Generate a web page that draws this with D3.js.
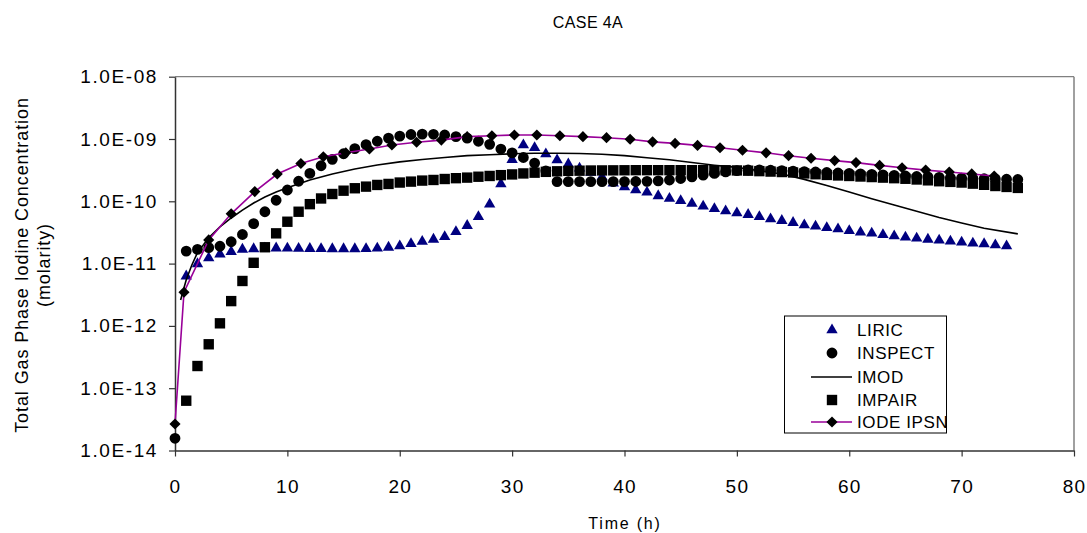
<!DOCTYPE html>
<html>
<head>
<meta charset="utf-8">
<script src="https://cdn.jsdelivr.net/npm/d3@7"></script>
<style>
  html, body { margin: 0; padding: 0; background: #fff; }
  svg { display: block; }
  text { font-family: "Liberation Sans", Arial, sans-serif; fill: #000; }
</style>
</head>
<body>
<svg id="chart" width="1087" height="533"></svg>
<script>
// ---------------- DATA ----------------
const titleText = "CASE 4A";
const xLabel = "Time (h)";
const yLabel1 = "Total Gas Phase Iodine Concentration";
const yLabel2 = "(molarity)";

const xTickValues = [0, 10, 20, 30, 40, 50, 60, 70, 80];
const yTickValues = [1e-14, 1e-13, 1e-12, 1e-11, 1e-10, 1e-9, 1e-8];
const yTickLabels = ["1.0E-14", "1.0E-13", "1.0E-12", "1.0E-11", "1.0E-10", "1.0E-09", "1.0E-08"];

const seriesNames = ["LIRIC", "INSPECT", "IMOD", "IMPAIR", "IODE IPSN"];

// LIRIC (t = 1..74 h)
const liricT = d3.range(1, 75);
const liricV = [
  6.3e-12, 9.9e-12, 1.23e-11, 1.42e-11, 1.55e-11, 1.69e-11, 1.72e-11, 1.76e-11, 1.77e-11, 1.76e-11,
  1.75e-11, 1.74e-11, 1.73e-11, 1.72e-11, 1.72e-11, 1.72e-11, 1.73e-11, 1.76e-11, 1.82e-11, 1.92e-11,
  2.08e-11, 2.26e-11, 2.45e-11, 2.7e-11, 3.25e-11, 4.06e-11, 5.66e-11, 8.95e-11, 1.9e-10, 4.65e-10,
  8.0e-10, 7.25e-10, 5.74e-10, 4.6e-10, 3.95e-10, 3.39e-10, 2.9e-10, 2.45e-10, 1.95e-10, 1.7e-10,
  1.52e-10, 1.40e-10, 1.22e-10, 1.11e-10, 1.02e-10, 9.2e-11, 8.3e-11, 7.6e-11, 7.0e-11, 6.5e-11,
  6.1e-11, 5.66e-11, 5.2e-11, 4.9e-11, 4.54e-11, 4.17e-11, 3.97e-11, 3.77e-11, 3.59e-11, 3.37e-11,
  3.18e-11, 3.06e-11, 2.91e-11, 2.77e-11, 2.64e-11, 2.55e-11, 2.45e-11, 2.37e-11, 2.28e-11, 2.2e-11,
  2.12e-11, 2.07e-11, 1.99e-11, 1.92e-11
];

// INSPECT (t = 0..75 h)
const inspectT = d3.range(0, 76);
const inspectV = [
  1.57e-14, 1.59e-11, 1.69e-11, 1.8e-11, 1.9e-11, 2.24e-11, 2.93e-11, 4.38e-11, 6.8e-11, 1.04e-10,
  1.52e-10, 2.1e-10, 2.8e-10, 3.72e-10, 4.72e-10, 5.8e-10, 7.0e-10, 8.1e-10, 9.2e-10, 1.03e-9,
  1.11e-9, 1.18e-9, 1.2e-9, 1.19e-9, 1.16e-9, 1.09e-9, 1.03e-9, 9.2e-10, 8.2e-10, 6.9e-10,
  6.0e-10, 5.05e-10, 4.1e-10, 3.08e-10, 2.07e-10, 2.07e-10, 2.07e-10, 2.07e-10, 2.07e-10, 2.07e-10,
  2.07e-10, 2.08e-10, 2.09e-10, 2.13e-10, 2.2e-10, 2.32e-10, 2.46e-10, 2.63e-10, 2.8e-10, 2.97e-10,
  3.1e-10, 3.18e-10, 3.2e-10, 3.15e-10, 3.1e-10, 3.05e-10, 3.0e-10, 2.95e-10, 2.9e-10, 2.85e-10,
  2.8e-10, 2.75e-10, 2.7e-10, 2.65e-10, 2.6e-10, 2.55e-10, 2.5e-10, 2.46e-10, 2.42e-10, 2.39e-10,
  2.36e-10, 2.33e-10, 2.3e-10, 2.28e-10, 2.26e-10, 2.24e-10
];

// IMOD (continuous line)
const imodT = [0.5, 1, 1.5, 2, 3, 4, 5, 6, 7, 8, 9, 10, 12, 14, 16, 18, 20, 22, 24, 26, 28, 30, 32, 34,
  36, 38, 40, 42, 44, 46, 48, 50, 52, 54, 56, 58, 60, 62, 64, 66, 68, 70, 72, 75];
const imodV = [2.6e-12, 5.5e-12, 9.5e-12, 1.5e-11, 2.6e-11, 3.9e-11, 5.4e-11, 7.2e-11, 9.4e-11, 1.17e-10,
  1.41e-10, 1.65e-10, 2.2e-10, 2.75e-10, 3.3e-10, 3.83e-10, 4.3e-10, 4.7e-10, 5.05e-10, 5.4e-10,
  5.6e-10, 5.8e-10, 5.9e-10, 5.9e-10, 5.85e-10, 5.7e-10, 5.4e-10, 5.0e-10, 4.65e-10, 4.2e-10,
  3.8e-10, 3.5e-10, 3.1e-10, 2.75e-10, 2.25e-10, 1.8e-10, 1.41e-10, 1.1e-10, 8.7e-11, 6.9e-11,
  5.5e-11, 4.5e-11, 3.7e-11, 3.0e-11];

// IMPAIR (t = 1..75 h)
const impairT = d3.range(1, 76);
const impairV = [
  6.3e-14, 2.27e-13, 5.07e-13, 1.1e-12, 2.5e-12, 5.26e-12, 1.03e-11, 1.83e-11, 3.06e-11, 4.7e-11,
  6.8e-11, 9.0e-11, 1.11e-10, 1.31e-10, 1.48e-10, 1.62e-10, 1.72e-10, 1.83e-10, 1.9e-10, 2.0e-10,
  2.07e-10, 2.15e-10, 2.2e-10, 2.28e-10, 2.35e-10, 2.4e-10, 2.48e-10, 2.55e-10, 2.63e-10, 2.7e-10,
  2.8e-10, 2.88e-10, 2.97e-10, 3.03e-10, 3.08e-10, 3.1e-10, 3.12e-10, 3.13e-10, 3.14e-10, 3.15e-10,
  3.16e-10, 3.16e-10, 3.16e-10, 3.16e-10, 3.16e-10, 3.16e-10, 3.16e-10, 3.16e-10, 3.15e-10, 3.13e-10,
  3.1e-10, 3.05e-10, 3.0e-10, 2.95e-10, 2.9e-10, 2.8e-10, 2.72e-10, 2.65e-10, 2.6e-10, 2.55e-10,
  2.5e-10, 2.45e-10, 2.4e-10, 2.35e-10, 2.3e-10, 2.24e-10, 2.17e-10, 2.1e-10, 2.05e-10, 2.0e-10,
  1.92e-10, 1.84e-10, 1.76e-10, 1.7e-10, 1.64e-10
];

// IODE IPSN (line + diamonds)
const iodeT = [0, 0.8, 3, 5, 7.1, 9.1, 11.2, 13.2, 15.2, 17.3, 19.3, 21.5, 23.7, 26, 28.2, 30.2, 32.2,
  34.25, 36.3, 38.4, 40.5, 42.5, 44.5, 46.5, 48.5, 50.5, 52.6, 54.6, 56.6, 58.7, 60.6, 62.7, 64.7,
  66.8, 68.9, 70.9, 72.9];
const iodeV = [2.66e-14, 3.47e-12, 2.4e-11, 6.3e-11, 1.43e-10, 2.74e-10, 4.05e-10, 5.2e-10, 6.0e-10,
  6.9e-10, 8.0e-10, 8.85e-10, 9.6e-10, 1.09e-9, 1.13e-9, 1.16e-9, 1.16e-9, 1.13e-9, 1.09e-9, 1.05e-9,
  9.9e-10, 9.0e-10, 8.5e-10, 7.9e-10, 7.25e-10, 6.6e-10, 6.0e-10, 5.4e-10, 4.9e-10, 4.5e-10, 4.18e-10,
  3.77e-10, 3.45e-10, 3.17e-10, 2.95e-10, 2.75e-10, 2.55e-10];

// ---------------- CHART ----------------
const plot = { left: 175, right: 1074, top: 76.7, bottom: 450.5 };
const svg = d3.select("#chart");

const x = d3.scaleLinear().domain([0, 80]).range([plot.left, plot.right]);
const y = d3.scaleLog().domain([1e-14, 1e-8]).range([plot.bottom, plot.top]);

const zip = (ts, vs) => ts.map((t, i) => ({ t, v: vs[i] }));

// frame (top & right)
svg.append("line").attr("x1", plot.left).attr("x2", plot.right).attr("y1", plot.top).attr("y2", plot.top)
  .attr("stroke", "#808080").attr("stroke-width", 1.2);
svg.append("line").attr("x1", plot.right).attr("x2", plot.right).attr("y1", plot.top).attr("y2", plot.bottom)
  .attr("stroke", "#808080").attr("stroke-width", 1.5);

// axes
const yAxis = d3.axisLeft(y).tickValues(yTickValues)
  .tickFormat((d, i) => yTickLabels[i]).tickSize(6).tickSizeOuter(0).tickPadding(11);
const gy = svg.append("g").attr("transform", `translate(${plot.left},0)`).call(yAxis);
gy.select(".domain").attr("stroke", "#333").attr("stroke-width", 1.5);
gy.selectAll(".tick line").attr("stroke", "#333").attr("stroke-width", 1.2);
gy.selectAll("text").style("font-size", "19px").style("letter-spacing", "1.6px")
  .style("font-family", '"Liberation Sans", Arial, sans-serif').attr("fill", "#000");

const xAxis = d3.axisBottom(x).tickValues(xTickValues).tickSize(6).tickSizeOuter(0).tickPadding(23);
const gx = svg.append("g").attr("transform", `translate(0,${plot.bottom})`).call(xAxis);
gx.select(".domain").attr("stroke", "#333").attr("stroke-width", 1.5);
gx.selectAll(".tick line").attr("stroke", "#333").attr("stroke-width", 1.2);
gx.selectAll("text").style("font-size", "19px").style("letter-spacing", "1.2px")
  .style("font-family", '"Liberation Sans", Arial, sans-serif').attr("fill", "#000");

// titles
svg.append("text").attr("x", 588).attr("y", 28).attr("text-anchor", "middle")
  .style("font-size", "16px").style("letter-spacing", "0.4px").text(titleText);
svg.append("text").attr("x", 625).attr("y", 529).attr("text-anchor", "middle")
  .style("font-size", "16px").style("letter-spacing", "1.8px").text(xLabel);
svg.append("text").attr("transform", "translate(28,265) rotate(-90)").attr("text-anchor", "middle")
  .style("font-size", "18px").style("letter-spacing", "0.9px").text(yLabel1);
svg.append("text").attr("transform", "translate(50,265) rotate(-90)").attr("text-anchor", "middle")
  .style("font-size", "18px").style("letter-spacing", "0.9px").text(yLabel2);

// symbols
const diamondType = {
  draw(ctx, size) {
    const r = Math.sqrt(size / 2);
    ctx.moveTo(0, -r); ctx.lineTo(r, 0); ctx.lineTo(0, r); ctx.lineTo(-r, 0); ctx.closePath();
  }
};
const triSym = d3.symbol().type(d3.symbolTriangle).size(56);
const circSym = d3.symbol().type(d3.symbolCircle).size(92);
const sqSym = d3.symbol().type(d3.symbolSquare).size(108);
const diaSym = d3.symbol().type(diamondType).size(62);

const NAVY = "#000080", PURPLE = "#990099";
const lineGen = d3.line().x(d => x(d.t)).y(d => y(d.v));

const gPlot = svg.append("g");

// LIRIC
gPlot.append("g").selectAll("path").data(zip(liricT, liricV)).join("path")
  .attr("d", triSym).attr("transform", d => `translate(${x(d.t)},${y(d.v)})`).attr("fill", NAVY);
// INSPECT
gPlot.append("g").selectAll("path").data(zip(inspectT, inspectV)).join("path")
  .attr("d", circSym).attr("transform", d => `translate(${x(d.t)},${y(d.v)})`).attr("fill", "#000");
// IMOD
gPlot.append("path").datum(zip(imodT, imodV)).attr("d", lineGen)
  .attr("fill", "none").attr("stroke", "#000").attr("stroke-width", 1.6);
// IMPAIR
gPlot.append("g").selectAll("path").data(zip(impairT, impairV)).join("path")
  .attr("d", sqSym).attr("transform", d => `translate(${x(d.t)},${y(d.v)})`).attr("fill", "#000");
// IODE IPSN
gPlot.append("path").datum(zip(iodeT, iodeV)).attr("d", lineGen)
  .attr("fill", "none").attr("stroke", PURPLE).attr("stroke-width", 1.6);
gPlot.append("g").selectAll("path").data(zip(iodeT, iodeV)).join("path")
  .attr("d", diaSym).attr("transform", d => `translate(${x(d.t)},${y(d.v)})`).attr("fill", "#000");

// legend
const lg = svg.append("g");
lg.append("rect").attr("x", 784.5).attr("y", 316).attr("width", 162).attr("height", 117)
  .attr("fill", "#fff").attr("stroke", "#000").attr("stroke-width", 1);
const legendY = [330, 353, 377, 400, 422];
const symX = 832;
seriesNames.forEach((name, i) => {
  const yy = legendY[i];
  if (i === 0) lg.append("path").attr("d", triSym).attr("transform", `translate(${symX},${yy})`).attr("fill", NAVY);
  if (i === 1) lg.append("path").attr("d", circSym).attr("transform", `translate(${symX},${yy})`).attr("fill", "#000");
  if (i === 2) lg.append("line").attr("x1", 811).attr("x2", 852).attr("y1", yy).attr("y2", yy)
    .attr("stroke", "#000").attr("stroke-width", 1.6);
  if (i === 3) lg.append("path").attr("d", sqSym).attr("transform", `translate(${symX},${yy})`).attr("fill", "#000");
  if (i === 4) {
    lg.append("line").attr("x1", 811).attr("x2", 852).attr("y1", yy).attr("y2", yy)
      .attr("stroke", PURPLE).attr("stroke-width", 1.6);
    lg.append("path").attr("d", diaSym).attr("transform", `translate(${symX},${yy})`).attr("fill", "#000");
  }
  lg.append("text").attr("x", 857).attr("y", yy).attr("dy", "0.36em")
    .style("font-size", "17px").style("letter-spacing", "0.6px").text(name);
});
</script>
</body>
</html>
